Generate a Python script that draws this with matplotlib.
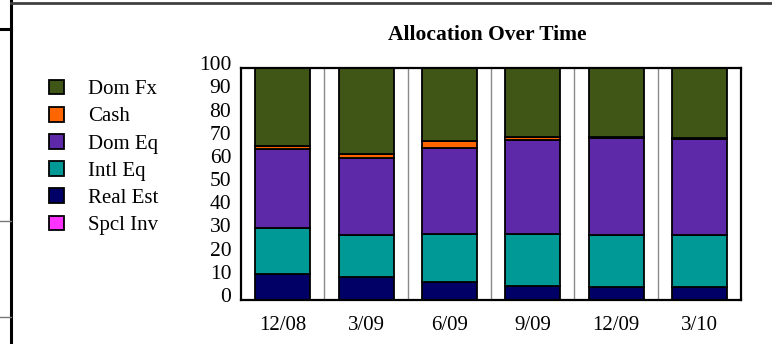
import matplotlib
matplotlib.use("Agg")
import matplotlib.pyplot as plt
import matplotlib.transforms as mtransforms
from matplotlib.lines import Line2D
import numpy as np

plt.rcParams['font.family'] = ['Liberation Serif', 'DejaVu Serif']

# Quarterly allocation (percent of portfolio), stacked bottom to top
periods = ["12/08", "3/09", "6/09", "9/09", "12/09", "3/10"]
spcl_inv = [0, 0, 0, 0, 0, 0]
real_est = [11.0, 9.6, 7.5, 5.8, 5.3, 5.5]
intl_eq = [19.7, 18.2, 20.6, 22.3, 22.5, 22.3]
dom_eq = [34.1, 33.2, 37.1, 40.7, 41.7, 41.4]
cash = [1.3, 1.6, 3.3, 1.3, 0.5, 0.6]
dom_fx = [33.9, 37.4, 31.5, 29.9, 30.0, 30.2]

series = [
    ("Spcl Inv", spcl_inv, "#ff33ff"),
    ("Real Est", real_est, "#000066"),
    ("Intl Eq", intl_eq, "#009995"),
    ("Dom Eq", dom_eq, "#5e29a8"),
    ("Cash", cash, "#ff6600"),
    ("Dom Fx", dom_fx, "#3f5617"),
]
y_ticks = list(range(0, 101, 10))

W, H = 772, 344
fig = plt.figure(figsize=(W / 100, H / 100), dpi=100)

ax = fig.add_axes([241 / W, 1 - 299.5 / H, 500 / W, 231.8 / H])
x = np.arange(len(periods))
bottom = np.zeros(len(periods))
handles = {}
for name, vals, color in series:
    vals = np.asarray(vals, dtype=float)
    bars = ax.bar(x, vals, width=0.66, bottom=bottom, color=color,
                  edgecolor="black", linewidth=1.3, label=name, zorder=3)
    handles[name] = bars
    bottom += vals

# Category dividers
for b in np.arange(0.5, len(periods) - 0.5, 1.0):
    ax.axvline(b, color="#8a8a8a", linewidth=1.0, zorder=1)

ax.set_xlim(-0.5, len(periods) - 0.5)
ax.set_ylim(0, 100)
ax.set_xticks(x)
ax.set_xticklabels(periods, fontsize=15)
ax.set_yticks(y_ticks)
ax.set_yticklabels([str(v) for v in y_ticks], fontsize=15.5)
ax.tick_params(axis="both", length=0)
ax.tick_params(axis="x", pad=12)
ax.tick_params(axis="y", pad=7)
shift = mtransforms.ScaledTranslation(0, 4.5 / 100, fig.dpi_scale_trans)
for lbl in ax.get_yticklabels():
    lbl.set_transform(lbl.get_transform() + shift)
for sp in ax.spines.values():
    sp.set_linewidth(1.6)
    sp.set_color("black")
    sp.set_zorder(4)

fig.text(487 / W, 1 - 35 / H, "Allocation Over Time", ha="center", va="center",
         fontsize=15.5, fontweight="bold")

order = ["Dom Fx", "Cash", "Dom Eq", "Intl Eq", "Real Est", "Spcl Inv"]
leg = fig.legend([handles[n] for n in order], order,
                 loc="upper left", bbox_to_anchor=(48.5 / W, 1 - 79.5 / H),
                 frameon=False, fontsize=15, handlelength=0.72, handleheight=0.72,
                 handletextpad=1.18, labelspacing=0.36, borderaxespad=0, borderpad=0)

# Surrounding page rules
fig.add_artist(Line2D([11 / W, 11 / W], [0, 1], color="black", linewidth=2.2))
fig.add_artist(Line2D([11 / W, 1], [1 - 3 / H, 1 - 3 / H], color="#404040", linewidth=2.0))
fig.add_artist(Line2D([0, 11 / W], [1 - 29 / H, 1 - 29 / H], color="black", linewidth=2.2))
fig.add_artist(Line2D([0, 11 / W], [1 - 221 / H, 1 - 221 / H], color="#777777", linewidth=1.0))
fig.add_artist(Line2D([0, 11 / W], [1 - 317 / H, 1 - 317 / H], color="#777777", linewidth=1.0))

fig.savefig("out.png", dpi=100)
